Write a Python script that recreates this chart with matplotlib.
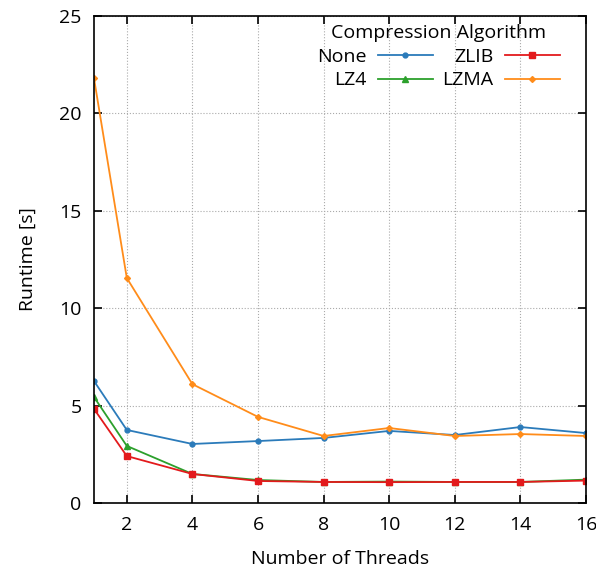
import matplotlib
matplotlib.use('Agg')
import matplotlib.pyplot as plt

plt.rcParams['font.family'] = ['Open Sans', 'DejaVu Sans']

threads = [1, 2, 4, 6, 8, 10, 12, 14, 16]
rt_none = [6.26, 3.75, 3.03, 3.18, 3.34, 3.70, 3.49, 3.90, 3.59]
rt_lz4 = [5.44, 2.93, 1.49, 1.18, 1.08, 1.10, 1.08, 1.08, 1.20]
rt_zlib = [4.83, 2.41, 1.49, 1.13, 1.08, 1.07, 1.08, 1.08, 1.15]
rt_lzma = [21.8, 11.55, 6.10, 4.42, 3.44, 3.85, 3.44, 3.54, 3.44]

fig = plt.figure(figsize=(5.96, 5.69), dpi=100)
ax = fig.add_axes([94/596, 1-503/569, (586-94)/596, (503-16)/569])

ax.plot(threads, rt_none, color='#2b7bba', marker='o', ms=3.5, lw=1.3, label='None')
ax.plot(threads, rt_lz4, color='#2ca02c', marker='^', ms=4.5, lw=1.3, label='LZ4')
ax.plot(threads, rt_zlib, color='#e31a1c', marker='s', ms=4.5, lw=1.3, label='ZLIB')
ax.plot(threads, rt_lzma, color='#ff8c1a', marker='D', ms=3, lw=1.3, label='LZMA')

ax.set_xlim(1, 16)
ax.set_ylim(0, 25)
ax.set_xticks(range(2, 17, 2))
ax.set_yticks(range(0, 26, 5))
ax.tick_params(direction='in', top=True, right=True, labelsize=14, length=6, width=1.2, pad=9)
ax.grid(True, ls=':', color='#aaaaaa', lw=0.8)
for s in ax.spines.values():
    s.set_linewidth(1.2)

ax.set_xlabel('Number of Threads', fontsize=14, labelpad=12)
ax.set_ylabel('Runtime [s]', fontsize=14, labelpad=16)

leg = ax.legend(ncol=2, title='Compression Algorithm', loc='upper right',
                bbox_to_anchor=(0.962, 1.0), borderaxespad=0,
                frameon=False, markerfirst=False, fontsize=14, title_fontsize=14,
                handlelength=2.8, columnspacing=0.5, handletextpad=0.6,
                labelspacing=0.3)
for t in leg.get_texts():
    t.set_ha('right')

fig.savefig('out.png', dpi=100)
